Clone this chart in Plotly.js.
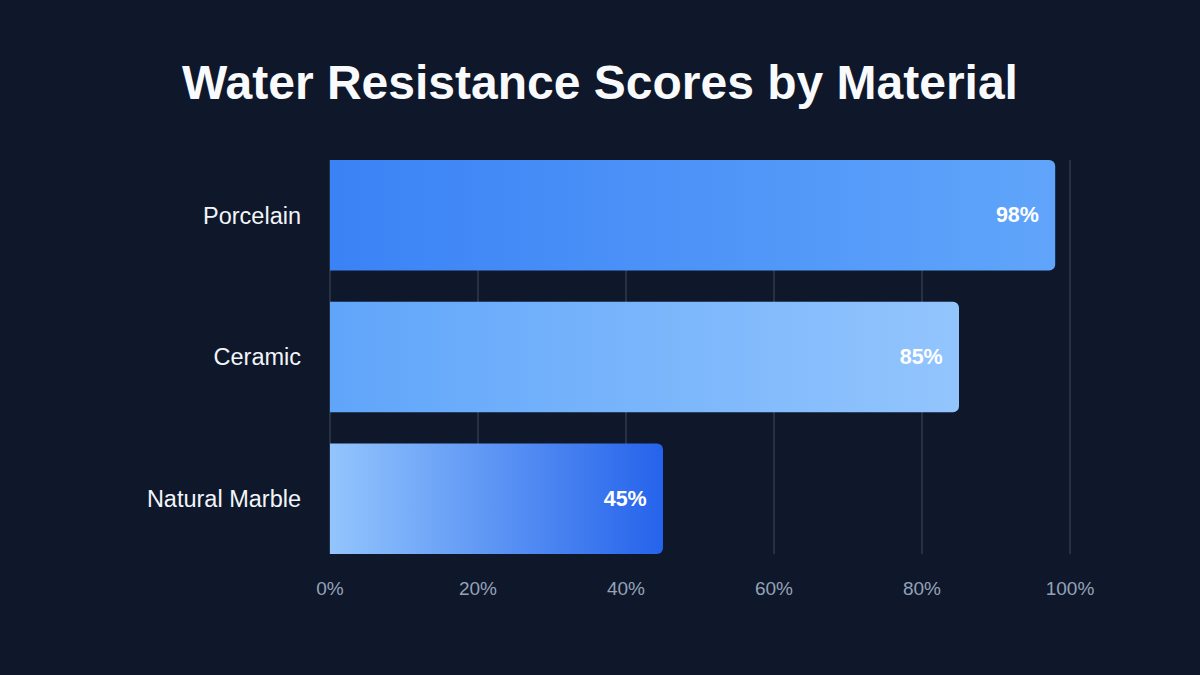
<!DOCTYPE html>
<html>
<head>
<meta charset="utf-8">
<script src="https://cdn.plot.ly/plotly-3.0.1.min.js"></script>
<style>
html,body{margin:0;padding:0;background:#0f172a;}
#chart{width:1200px;height:675px;}
</style>
</head>
<body>
<div id="chart"></div>
<script>
const materials = ['Porcelain', 'Ceramic', 'Natural Marble'];
const scores = [98, 85, 45];
const tickValues = [0, 20, 40, 60, 80, 100];
const tickLabels = ['0%', '20%', '40%', '60%', '80%', '100%'];
const gradientStops = [
  ['#3b82f6', '#60a5fa'],
  ['#60a5fa', '#93c5fd'],
  ['#93c5fd', '#2563eb']
];

const trace = {
  type: 'bar',
  orientation: 'h',
  y: materials,
  x: scores,
  width: 0.78,
  marker: { color: gradientStops.map(g => g[0]), cornerradius: 6, line: { width: 0 } },
  text: scores.map(v => v + '%\u00a0\u2009'),
  textposition: 'inside',
  insidetextanchor: 'end',
  textangle: 0,
  textfont: { family: 'Liberation Sans, Arial, sans-serif', size: 21.5, color: '#ffffff', weight: 'bold' },
  hoverinfo: 'skip',
  cliponaxis: false
};

const layout = {
  width: 1200,
  height: 675,
  paper_bgcolor: '#0f172a',
  plot_bgcolor: '#0f172a',
  margin: { l: 328, r: 128, t: 160, b: 121 },
  showlegend: false,
  title: {
    text: '<b>Water Resistance Scores by Material</b>',
    font: { family: 'Liberation Sans, Arial, sans-serif', size: 48, color: '#f8fafc' },
    x: 0.5, xanchor: 'center',
    y: 1 - 82 / 675, yref: 'container', yanchor: 'middle'
  },
  xaxis: {
    range: [-0.27, 100.27],
    tickvals: tickValues,
    ticktext: tickLabels,
    showgrid: true,
    gridcolor: '#263244',
    gridwidth: 1.5,
    zeroline: false,
    showline: false,
    ticks: '',
    ticklabelstandoff: 21,
    tickfont: { family: 'Liberation Sans, Arial, sans-serif', size: 19, color: '#94a3b8' },
    fixedrange: true
  },
  yaxis: {
    type: 'category',
    categoryorder: 'array',
    categoryarray: materials,
    range: [2.39, -0.39],
    showgrid: false,
    zeroline: false,
    showline: false,
    ticks: '',
    ticklabelstandoff: 26,
    tickfont: { family: 'Liberation Sans, Arial, sans-serif', size: 23.5, color: '#f1f5f9' },
    fixedrange: true
  }
};

Plotly.newPlot('chart', [trace], layout, { displayModeBar: false, staticPlot: true }).then(gd => {
  const svgNS = 'http://www.w3.org/2000/svg';
  const svg = gd.querySelector('svg.main-svg');
  let defs = svg.querySelector('defs');
  if (!defs) { defs = document.createElementNS(svgNS, 'defs'); svg.insertBefore(defs, svg.firstChild); }
  gradientStops.forEach((stops, i) => {
    const lg = document.createElementNS(svgNS, 'linearGradient');
    lg.setAttribute('id', 'barGrad' + i);
    lg.setAttribute('x1', '0'); lg.setAttribute('y1', '0');
    lg.setAttribute('x2', '1'); lg.setAttribute('y2', '0');
    stops.forEach((c, j) => {
      const s = document.createElementNS(svgNS, 'stop');
      s.setAttribute('offset', j === 0 ? '0' : '1');
      s.setAttribute('stop-color', c);
      lg.appendChild(s);
    });
    defs.appendChild(lg);
  });
  const paths = gd.querySelectorAll('.barlayer .trace .point path');
  paths.forEach((p, i) => { p.style.fill = 'url(#barGrad' + i + ')'; });
});
</script>
</body>
</html>
